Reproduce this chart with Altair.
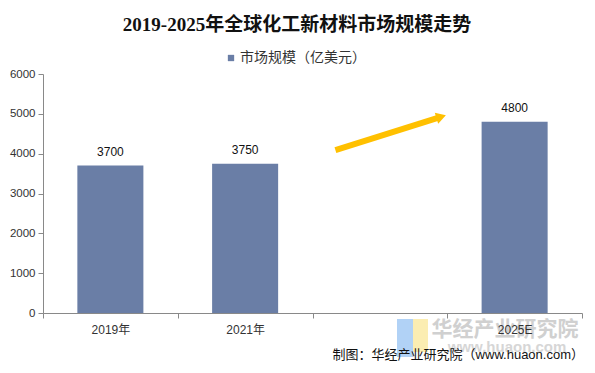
import altair as alt
import pandas as pd

# ---- data ----
categories = ["2019年", "2021年", " ", "2025E"]
values = [3700, 3750, None, 4800]
y_ticks = [0, 1000, 2000, 3000, 4000, 5000, 6000]
series_name = "市场规模（亿美元）"
title_text = "2019-2025年全球化工新材料市场规模走势"
source_text = "制图：华经产业研究院（www.huaon.com）"
watermark_cn = "华经产业研究院"
watermark_en = "www.huaon.com"

# arrow (in band units along x, data units along y)
arrow_x = [2.17, 2.93]
arrow_y = [4090, 4900]
arrow_tip_x = [2.955]
arrow_tip_y = [4925]

BAR = "#6A7EA6"
AXIS = "#898989"
FONT = "Liberation Sans, Noto Sans CJK SC"
W, H = 539, 239

df = pd.DataFrame({"cat": categories, "val": values, "series": [series_name] * 4})

x_scale = alt.Scale(domain=categories, paddingInner=0, paddingOuter=0)
y_scale = alt.Scale(domain=[0, 6000])

x_enc = alt.X(
    "cat:N",
    sort=categories,
    scale=x_scale,
    axis=alt.Axis(
        title=None, labelAngle=0, domainColor=AXIS, tickColor=AXIS, tickSize=5,
        tickBand="extent", labelFontSize=12, labelColor="#333333", labelFont=FONT,
        labelPadding=6, grid=False, zindex=2,
    ),
)
y_enc = alt.Y(
    "val:Q",
    scale=y_scale,
    axis=alt.Axis(
        title=None, values=y_ticks, format="d", labelOverlap=False, grid=False,
        domainColor=AXIS, tickColor=AXIS, tickSize=5, labelFontSize=11.5,
        labelColor="#333333", labelFont=FONT, labelPadding=3,
    ),
)

base_chart = alt.Chart(df).encode(x=x_enc, y=y_enc)

bars = base_chart.mark_bar(width=alt.RelativeBandSize(0.49)).encode(
    color=alt.Color(
        "series:N",
        scale=alt.Scale(domain=[series_name], range=[BAR]),
        legend=alt.Legend(
            title=None, orient="none", legendX=181, legendY=-23, symbolType="square",
            symbolSize=40, symbolStrokeWidth=0, labelFontSize=14, labelFont=FONT,
            labelColor="#333333", labelOffset=2,
        ),
    ),
)

labels = base_chart.mark_text(
    dy=-7, baseline="bottom", fontSize=12, font=FONT, color="#111111"
).encode(
    text=alt.Text("val:Q", format="d"),
)

base = alt.layer(bars, labels)

# arrow layer on its own hidden quantitative x scale (band units)
arrow_df = pd.DataFrame({"x": [arrow_x[0]], "x2": [arrow_x[1]], "y": [arrow_y[0]], "y2": [arrow_y[1]]})
tip_df = pd.DataFrame({"x": arrow_tip_x, "y": arrow_tip_y})
xq = alt.Scale(domain=[0, 4])
yq = alt.Scale(domain=[0, 6000])
arrow_line = alt.Chart(arrow_df).mark_rule(color="#FFC000", strokeWidth=6, strokeCap="butt").encode(
    x=alt.X("x:Q", scale=xq, axis=None), x2="x2:Q",
    y=alt.Y("y:Q", scale=yq, axis=None), y2="y2:Q",
)
arrow_head = alt.Chart(tip_df).mark_point(
    shape="triangle-right", filled=True, color="#FFC000", size=130, angle=342.6, opacity=1
).encode(
    x=alt.X("x:Q", scale=xq, axis=None),
    y=alt.Y("y:Q", scale=yq, axis=None),
)
arrow = alt.layer(arrow_line, arrow_head)

# decorations: title, watermark, source
tdf = pd.DataFrame({"t": [title_text]})
title = alt.Chart(tdf).mark_text(
    fontSize=19, fontWeight="bold", font="Liberation Serif, Noto Sans CJK SC",
    color="#111111", align="center", baseline="middle",
).encode(x=alt.value(254), y=alt.value(-49), text="t:N")

logo_blue = alt.Chart(pd.DataFrame({"k": ["b"]})).mark_rect(color="#A9CDF5", opacity=0.9).encode(
    x=alt.value(354), x2=alt.value(370), y=alt.value(245), y2=alt.value(283)
)
logo_yellow = alt.Chart(pd.DataFrame({"k": ["y"]})).mark_rect(color="#FBEBAA", opacity=0.9).encode(
    x=alt.value(370), x2=alt.value(385), y=alt.value(245), y2=alt.value(278)
)
wm1 = alt.Chart(pd.DataFrame({"t": [watermark_cn]})).mark_text(
    fontSize=21, fontWeight="bold", font="Noto Sans CJK SC", color="#C8C8C8",
    opacity=0.85, align="center", baseline="middle",
).encode(x=alt.value(462), y=alt.value(256), text="t:N")
wm2 = alt.Chart(pd.DataFrame({"t": [watermark_en]})).mark_text(
    fontSize=15, fontWeight="bold", font="Liberation Sans", color="#D0D0D0",
    opacity=0.85, align="center", baseline="middle",
).encode(x=alt.value(464), y=alt.value(273), text="t:N")
src = alt.Chart(pd.DataFrame({"t": [source_text]})).mark_text(
    fontSize=13, font=FONT, color="#111111", align="right", baseline="middle",
).encode(x=alt.value(541), y=alt.value(281), text="t:N")

chart = alt.layer(
    logo_blue, logo_yellow, wm1, wm2, base, arrow, title, src
).resolve_scale(x="independent", y="independent").properties(
    width=W, height=H,
    autosize=alt.AutoSizeParams(type="none"),
    padding={"left": 35, "top": 66, "right": 5, "bottom": 60},
).configure_view(stroke=None).configure_axis(domainWidth=1, tickWidth=1)

chart.save("out.html", embed_options={"renderer": "svg", "actions": False})
